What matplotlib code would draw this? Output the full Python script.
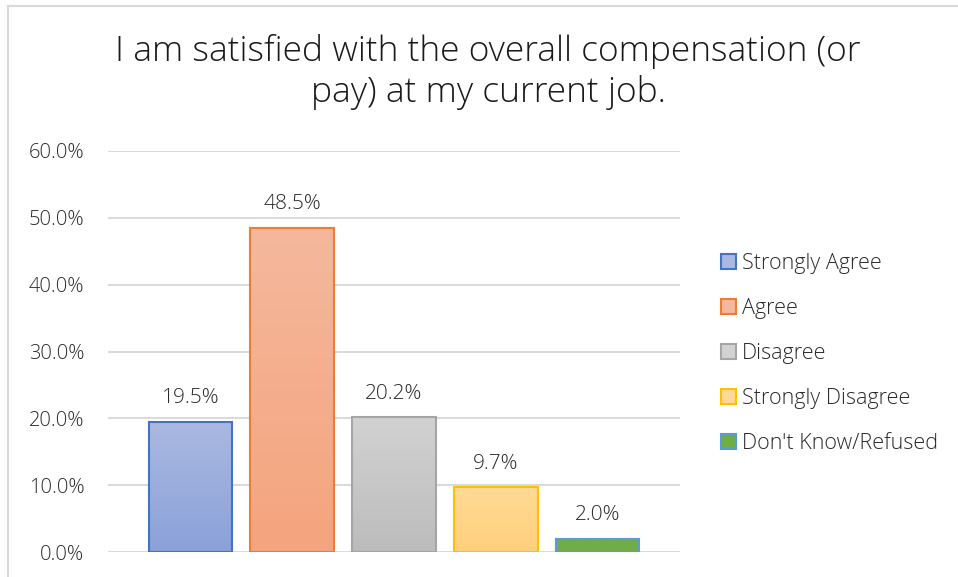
import matplotlib
matplotlib.use("Agg")
import matplotlib.pyplot as plt
import numpy as np
from matplotlib.patches import Rectangle
from matplotlib.colors import LinearSegmentedColormap

categories = ["Strongly Agree", "Agree", "Disagree", "Strongly Disagree", "Don't Know/Refused"]
values = [19.5, 48.5, 20.2, 9.7, 2.0]
value_labels = ["19.5%", "48.5%", "20.2%", "9.7%", "2.0%"]
yticks = [0, 10, 20, 30, 40, 50, 60]
ytick_labels = ["0.0%", "10.0%", "20.0%", "30.0%", "40.0%", "50.0%", "60.0%"]
title = "I am satisfied with the overall compensation (or\npay) at my current job."

top_colors = ["#AAB9E1", "#F4B89C", "#D2D2D2", "#FFDA95", "#70AD47"]
bot_colors = ["#8AA1D9", "#F5A47E", "#BCBCBC", "#FFD07C", "#70AD47"]
edge_colors = ["#4472C4", "#ED7D31", "#A5A5A5", "#FFC000", "#5B9BD5"]

FONT = ["Open Sans", "DejaVu Sans"]
TXT = "#2a2a2a"

fig = plt.figure(figsize=(9.58, 5.77), dpi=100)
W, H = 958, 577
# chart border (left + top)
fig.add_artist(plt.Line2D([8/W, 8/W], [0, 1 - 6/H], color="#D9D9D9", lw=1.5, transform=fig.transFigure))
fig.add_artist(plt.Line2D([8/W, 1], [1 - 6/H, 1 - 6/H], color="#D9D9D9", lw=1.5, transform=fig.transFigure))

ax = fig.add_axes([108/W, 1 - 552/H, (680-108)/W, (552-151)/H])
for s in ax.spines.values():
    s.set_visible(False)
ax.set_yticks(yticks)
ax.set_yticklabels(ytick_labels, fontsize=14.5, color=TXT, family=FONT, fontweight="light")
ax.tick_params(axis="y", length=0, pad=17)
ax.set_xticks([])
for t in yticks:
    ax.axhline(t, color="#D9D9D9", lw=1.4, zorder=0)

x = np.arange(len(values))
bw = 0.82
handles = []
for i, v in enumerate(values):
    cmap = LinearSegmentedColormap.from_list("g", [bot_colors[i], top_colors[i]])
    grad = np.linspace(0, 1, 256).reshape(-1, 1)
    im = ax.imshow(grad, extent=[x[i]-bw/2, x[i]+bw/2, 0, v], origin="lower",
                   aspect="auto", cmap=cmap, zorder=2)
    rect = Rectangle((x[i]-bw/2, 0), bw, v, facecolor="none", edgecolor=edge_colors[i], lw=1.5, zorder=3)
    ax.add_patch(rect)
    im.set_clip_path(rect)
    ax.text(x[i], v + 2.0, value_labels[i], ha="center", va="bottom", fontsize=15,
            color=TXT, family=FONT, fontweight="light")
    handles.append(Rectangle((0, 0), 1, 1, facecolor=top_colors[i] if i < 4 else bot_colors[i],
                             edgecolor=edge_colors[i], lw=1.5))
ax.set_aspect("auto")
ax.set_xlim(-0.81, 4.81)
ax.set_ylim(0, 60)

fig.legend(handles, categories, loc="upper left", bbox_to_anchor=(712/W, 1 - 244/H),
           frameon=False, labelspacing=1.12, handlelength=0.7,
           handleheight=0.7, handletextpad=0.3, borderaxespad=0,
           prop={"family": FONT, "weight": "light", "size": 15.5}, labelcolor=TXT)

fig.text(488/W, 1 - 72/H, title, ha="center", va="center", fontsize=25.5,
         color="#1a1a1a", family=FONT, fontweight="light", linespacing=1.22)

fig.savefig("out.png", dpi=100, facecolor="white")
